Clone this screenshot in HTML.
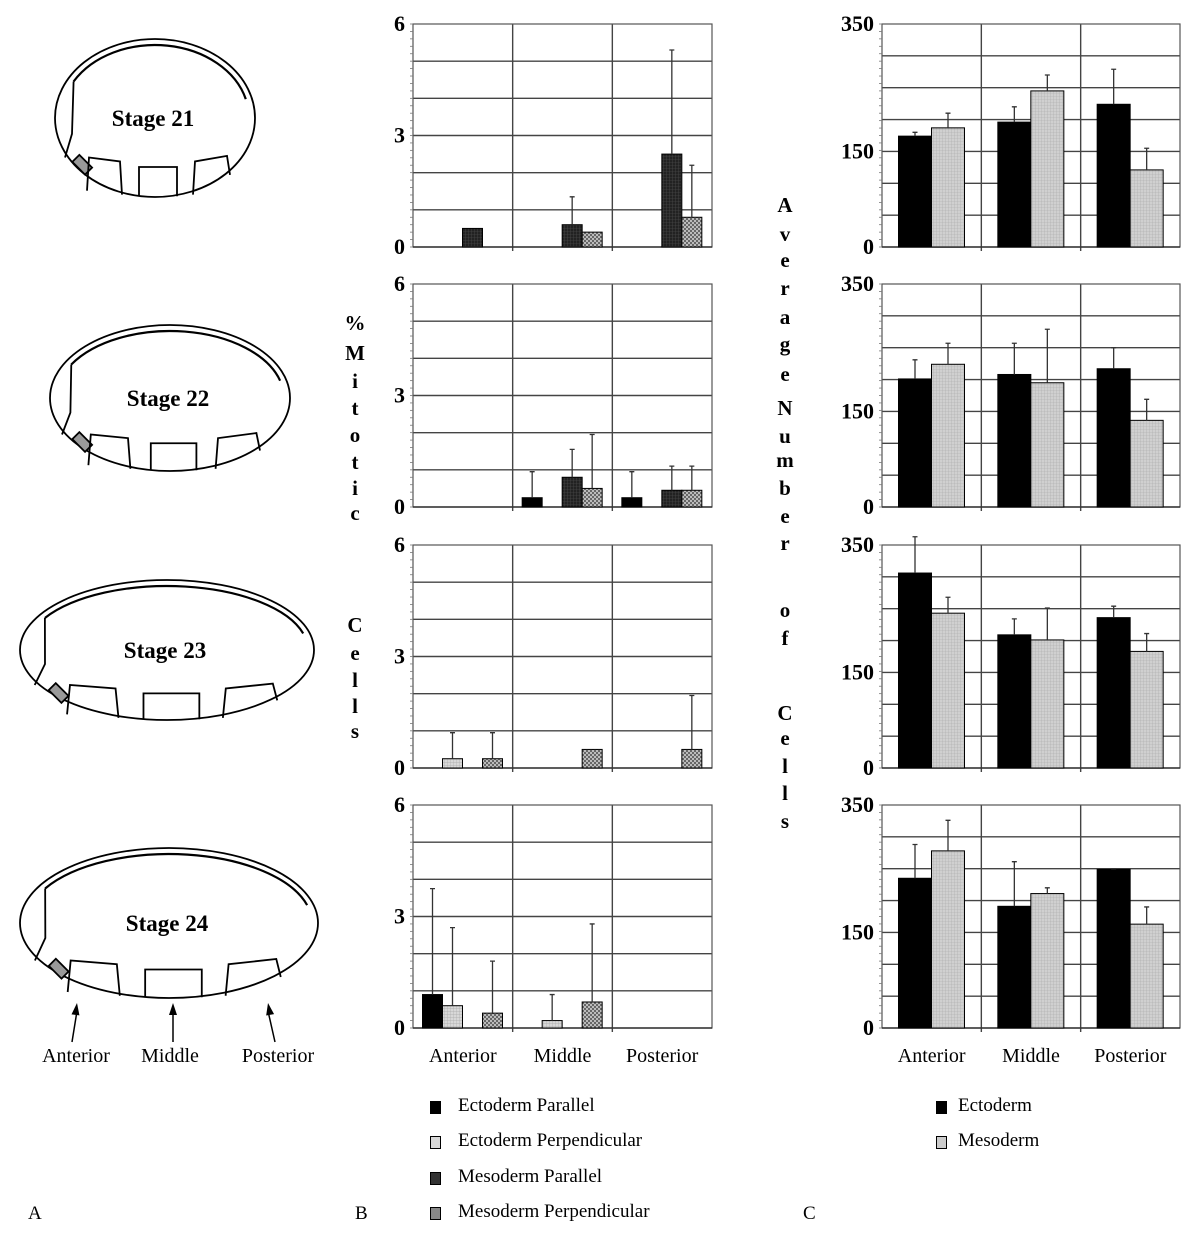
<!DOCTYPE html>
<html><head><meta charset="utf-8">
<style>
body{margin:0;background:#fff;width:1189px;height:1241px;overflow:hidden;position:relative;font-family:"Liberation Serif",serif;}
.ch{position:absolute;font-weight:bold;font-size:21px;text-align:center;width:24px;}
.lg{position:absolute;font-size:19px;font-family:"Liberation Serif",serif;}
.sq{position:absolute;width:9px;height:11px;border:1px solid #000;}
</style></head><body>
<svg id="s" width="1189" height="1241" style="position:absolute;left:0;top:0" xmlns="http://www.w3.org/2000/svg">
<defs>
<pattern id="pLight" width="3" height="3" patternUnits="userSpaceOnUse"><rect width="3" height="3" fill="#d8d8d8"/><path d="M0 0H3M0 0V3" stroke="#aaa" stroke-width="0.7"/></pattern>
<pattern id="pDark" width="3" height="3" patternUnits="userSpaceOnUse"><rect width="3" height="3" fill="#222"/><path d="M0 0H3M0 0V3" stroke="#555" stroke-width="0.6"/></pattern>
<pattern id="pMed" width="4" height="4" patternUnits="userSpaceOnUse"><rect width="4" height="4" fill="#bbb"/><rect width="2" height="2" fill="#666"/><rect x="2" y="2" width="2" height="2" fill="#666"/></pattern>
<pattern id="pMeso" width="3" height="3" patternUnits="userSpaceOnUse"><rect width="3" height="3" fill="#d0d0d0"/><path d="M0 0H3M0 0V3" stroke="#a8a8a8" stroke-width="0.6"/></pattern>
</defs>
</svg>

<div class="lg" style="left:28px;top:1203px">A</div>
<div class="lg" style="left:355px;top:1203px">B</div>
<div class="lg" style="left:803px;top:1203px">C</div>

<div class="sq" style="left:430px;top:1101px;background:#000"></div>
<div class="lg" style="left:458px;top:1095px">Ectoderm Parallel</div>
<div class="sq" style="left:430px;top:1136px;background:#d8d8d8"></div>
<div class="lg" style="left:458px;top:1130px">Ectoderm Perpendicular</div>
<div class="sq" style="left:430px;top:1172px;background:#333"></div>
<div class="lg" style="left:458px;top:1166px">Mesoderm Parallel</div>
<div class="sq" style="left:430px;top:1207px;background:#888"></div>
<div class="lg" style="left:458px;top:1201px">Mesoderm Perpendicular</div>
<div class="sq" style="left:936px;top:1101px;background:#000"></div>
<div class="lg" style="left:958px;top:1095px">Ectoderm</div>
<div class="sq" style="left:936px;top:1136px;background:#ccc"></div>
<div class="lg" style="left:958px;top:1130px">Mesoderm</div>

<script>
// ---- Panel B data (% mitotic cells), rows = stages 21..24, cols = Anterior/Middle/Posterior
const categories = ["Anterior","Middle","Posterior"];
const stages = ["Stage 21","Stage 22","Stage 23","Stage 24"];
const bTicks = [0,3,6];
const cTicks = [0,150,350];
const ectPar     = [[0,0,0],[0,0.25,0.25],[0,0,0],[0.9,0,0]];
const ectParErr  = [[0,0,0],[0,0.95,0.95],[0,0,0],[3.75,0,0]];
const ectPerp    = [[0,0,0],[0,0,0],[0.25,0,0],[0.6,0.2,0]];
const ectPerpErr = [[0,0,0],[0,0,0],[0.95,0,0],[2.7,0.9,0]];
const mesPar     = [[0.5,0.6,2.5],[0,0.8,0.45],[0,0,0],[0,0,0]];
const mesParErr  = [[0,1.35,5.3],[0,1.55,1.1],[0,0,0],[0,0,0]];
const mesPerp    = [[0,0.4,0.8],[0,0.5,0.45],[0.25,0.5,0.5],[0.4,0.7,0]];
const mesPerpErr = [[0,0,2.2],[0,1.95,1.1],[0.95,0,1.95],[1.8,2.8,0]];
// ---- Panel C data (average number of cells)
const ecto    = [[174,196,224],[201,208,217],[306,209,236],[235,191,249]];
const ectoErr = [[180,220,279],[231,257,250],[363,234,254],[288,261,250]];
const meso    = [[187,245,121],[224,195,136],[243,201,183],[278,211,163]];
const mesoErr = [[210,270,155],[257,279,169],[268,251,211],[326,220,190]];

const svg = document.getElementById('s');
const NS = "http://www.w3.org/2000/svg";
function mk(tag, attrs, parent){const e=document.createElementNS(NS,tag);for(const k in attrs)e.setAttribute(k,attrs[k]);(parent||svg).appendChild(e);return e;}
const rowBottom = [247,507,768,1028];
const H = 223;
function yB(row,v){return rowBottom[row]-v/6*H;}
function yC(row,v){return rowBottom[row]-v/350*H;}

function drawFrame(x0,w,row,nGrid,maxV,ticks,yf,name){
  const g=mk('g',{});
  
  
  const b=rowBottom[row], t=b-H;
  for(let i=1;i<nGrid;i++){const y=b-i*H/nGrid;mk('line',{x1:x0,x2:x0+w,y1:y,y2:y,stroke:'#444','stroke-width':1.4},g);}
  for(let i=1;i<3;i++){const x=x0+i*w/3;mk('line',{x1:x,x2:x,y1:t,y2:b+4,stroke:'#444','stroke-width':1.4},g);}
  mk('rect',{x:x0,y:t,width:w,height:H,fill:'none',stroke:'#555','stroke-width':1.2},g);
  mk('line',{x1:x0,x2:x0+w,y1:b,y2:b,stroke:'#333','stroke-width':1.6},g);
  for(let i=0;i<=30;i++){const y=b-i*H/30;mk('line',{x1:x0-3,x2:x0,y1:y,y2:y,stroke:'#777','stroke-width':0.8},g);}
  ticks.forEach(v=>{const tx=mk('text',{x:x0-8,y:yf(row,v)+7,'text-anchor':'end','font-size':22,'font-weight':'bold','font-family':'Liberation Serif, serif'},g);tx.textContent=v;});
}
function bar(x,w,y0,y1,fill,name){
  const r=mk('rect',{x:x,y:y1,width:w,height:y0-y1,fill:fill,stroke:'#000','stroke-width':1});
  
  
}
function err(x,ytop,yerr){
  if(yerr>=ytop-0.5)return;
  const e=mk('path',{d:`M${x} ${ytop}V${yerr}M${x-2.5} ${yerr}H${x+2.5}`,stroke:'#333','stroke-width':1.3,fill:'none'});
  
  
}

// Panel B
const bx0=413,bw=299,bcw=bw/3;
const bSeries=[[ectPar,ectParErr,'#000','ectoderm-parallel'],[ectPerp,ectPerpErr,'url(#pLight)','ectoderm-perpendicular'],[mesPar,mesParErr,'url(#pDark)','mesoderm-parallel'],[mesPerp,mesPerpErr,'url(#pMed)','mesoderm-perpendicular']];
for(let r=0;r<4;r++){
  drawFrame(bx0,bw,r,6,6,bTicks,yB,'mitotic-chart-'+(21+r));
  for(let c=0;c<3;c++){
    bSeries.forEach((s,i)=>{
      const v=s[0][r][c]; if(!v)return;
      const x=bx0+c*bcw+9.5+i*20;
      bar(x,20,rowBottom[r],yB(r,v),s[2],'bar-'+s[3]);
      const e=s[1][r][c]; if(e>v)err(x+10,yB(r,v),yB(r,e));
    });
  }
}
// Panel C
const cx0=882,cw=298,ccw=cw/3;
const cSeries=[[ecto,ectoErr,'#000','ectoderm'],[meso,mesoErr,'url(#pMeso)','mesoderm']];
for(let r=0;r<4;r++){
  drawFrame(cx0,cw,r,7,350,cTicks,yC,'cellcount-chart-'+(21+r));
  for(let c=0;c<3;c++){
    cSeries.forEach((s,i)=>{
      const v=s[0][r][c];
      const x=cx0+c*ccw+16.5+i*33;
      bar(x,33,rowBottom[r],yC(r,v),s[2],'bar-'+s[3]);
      err(x+16.5,yC(r,v),yC(r,s[1][r][c]));
    });
  }
}
// category labels
[[bx0,bcw],[cx0,ccw]].forEach(([x0,cwid],pi)=>{
  categories.forEach((t,i)=>{
    const tx=mk('text',{x:x0+cwid*(i+0.5),y:1062,'text-anchor':'middle','font-size':20,'font-family':'Liberation Serif, serif'});
    
    
    tx.textContent=t;
  });
});
// Panel A embryo drawings
const emb=[[155,118,100,79],[170,398,120,73],[167,650,147,70],[169,923,149,75]];
emb.forEach(([cx,cy,rx,ry],i)=>{
  const g=mk('g',{fill:'none',stroke:'#000','stroke-width':1.8});
  
  
  mk('ellipse',{cx:cx,cy:cy,rx:rx,ry:ry},g);
  const irx=rx-6, iry=ry-6;
  const a1=150*Math.PI/180, a2=15*Math.PI/180;
  const p1=[cx+irx*Math.cos(a1), cy-iry*Math.sin(a1)], p2=[cx+irx*Math.cos(a2), cy-iry*Math.sin(a2)];
  mk('path',{d:`M${p1[0]} ${p1[1]} A${irx} ${iry} 0 0 1 ${p2[0]} ${p2[1]}`,'stroke-width':2.2},g);
  mk('path',{d:`M${p1[0]} ${p1[1]} L${cx-rx*0.83} ${cy+ry*0.2} L${cx-rx*0.9} ${cy+ry*0.5}`},g);
  mk('rect',{x:cx-rx*0.78,y:cy+ry*0.5,width:10,height:18,transform:`rotate(-45 ${cx-rx*0.75} ${cy+ry*0.6})`,fill:'#999'},g);
  mk('path',{d:`M${cx-rx*0.68} ${cy+ry*0.92} L${cx-rx*0.66} ${cy+ry*0.5} L${cx-rx*0.35} ${cy+ry*0.55} L${cx-rx*0.33} ${cy+ry*0.97}`},g);
  mk('path',{d:`M${cx-rx*0.16} ${cy+ry*0.99} V${cy+ry*0.62} H${cx+rx*0.22} V${cy+ry*0.99}`},g);
  mk('path',{d:`M${cx+rx*0.38} ${cy+ry*0.97} L${cx+rx*0.4} ${cy+ry*0.55} L${cx+rx*0.72} ${cy+ry*0.48} L${cx+rx*0.75} ${cy+ry*0.72}`},g);
  const t=mk('text',{x:cx-2,y:cy+8,'text-anchor':'middle','font-size':23,'font-weight':'bold','font-family':'Liberation Serif, serif'});
  
  
  t.textContent=stages[i];
});
// arrows
[[77,1003,72,1042],[173,1003,173,1042],[268,1003,275,1042]].forEach(a=>{
  const g=mk('g',{});
  
  
  mk('line',{x1:a[2],y1:a[3],x2:a[0],y2:a[1]+8,stroke:'#000','stroke-width':1.5},g);
  const dx=a[0]-a[2],ang=Math.atan2(a[1]-a[3],dx)*180/Math.PI;
  mk('polygon',{points:`${a[0]},${a[1]} ${a[0]-4},${a[1]+12} ${a[0]+4},${a[1]+12}`,fill:'#000',transform:`rotate(${ang+90} ${a[0]} ${a[1]})`},g);
});
categories.forEach((t,i)=>{
  const tx=mk('text',{x:[76,170,278][i],y:1062,'text-anchor':'middle','font-size':20,'font-family':'Liberation Serif, serif'});
  
  
  tx.textContent=t;
});
// vertical axis titles
function vtitle(chars,x,ys,name){
  chars.forEach((ch,i)=>{
    const d=document.createElement('div');
    d.className='ch';
    
    
    d.style.left=(x-12)+'px';d.style.top=(ys[i]-14)+'px';d.textContent=ch;
    document.body.appendChild(d);
  });
}
vtitle(['%','M','i','t','o','t','i','c','C','e','l','l','s'],355,[325,355,383,410,437,464,490,515,627,655,682,708,733],'y-axis-title-mitotic');
vtitle(['A','v','e','r','a','g','e','N','u','m','b','e','r','o','f','C','e','l','l','s'],785,[207,236,262,290,319,346,376,410,438,462,490,518,545,612,640,715,740,768,795,823],'y-axis-title-cell-count');
</script>
</body></html>
